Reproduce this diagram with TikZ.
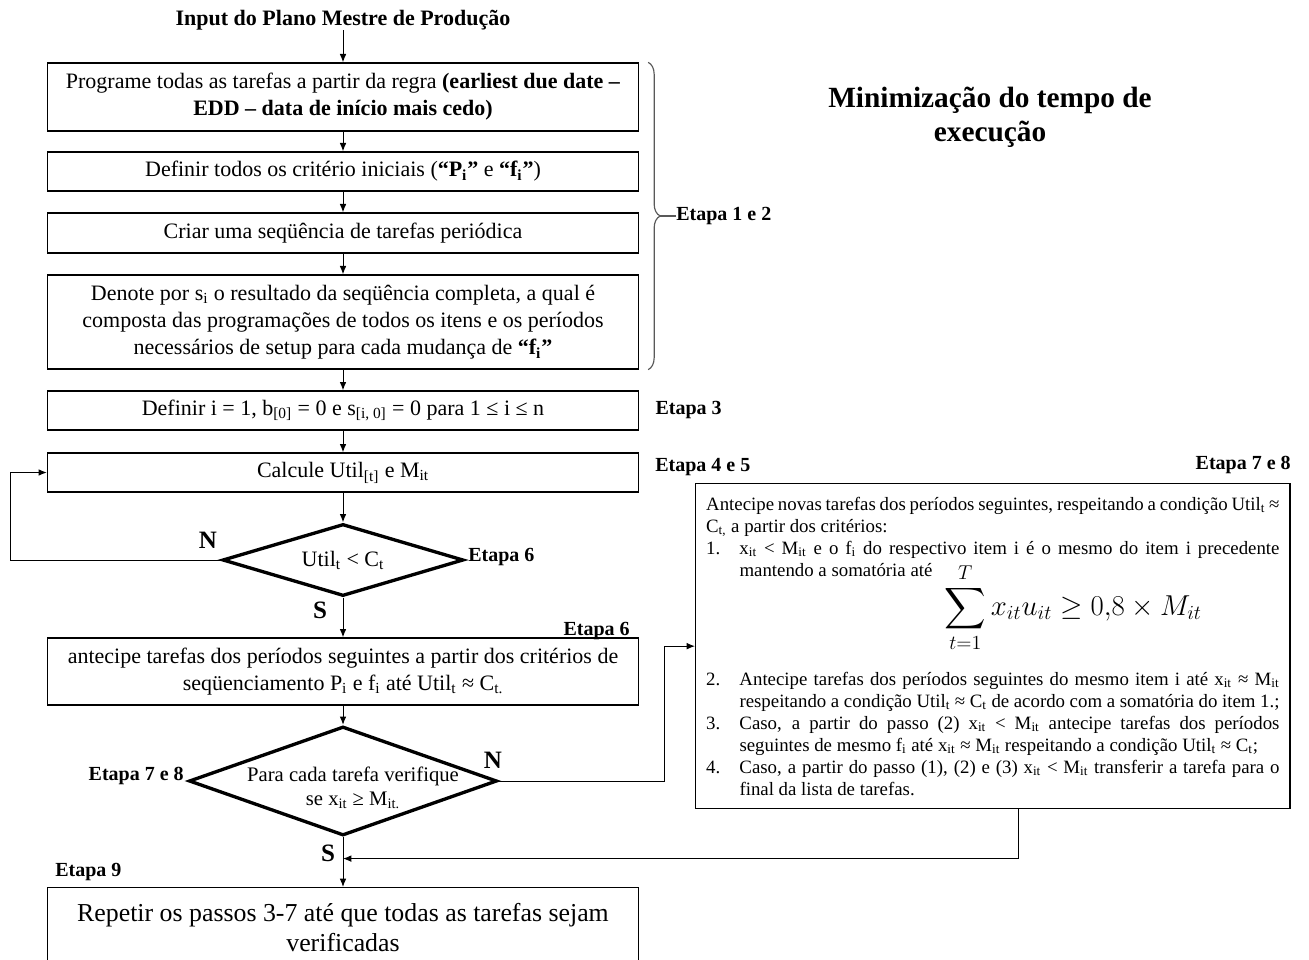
\documentclass[tikz,border=0pt]{standalone}
\usepackage{fontspec}
\setmainfont{Liberation Serif}
\usepackage{amsmath}
\usetikzlibrary{arrows.meta, positioning, calc, shapes.geometric, decorations.pathreplacing}

\newcommand\sbs[1]{\textsubscript{#1}}
\newcommand\passo[2]{\par\hangindent=20pt\hangafter=1\noindent\makebox[20pt][l]{#1}#2\par}

\begin{document}
\begin{tikzpicture}[x=0.6pt, y=-0.6pt,
    caixa/.style={draw, line width=0.8pt, minimum width=354.6pt, align=center,
        font=\fontsize{13.2}{16.2}\selectfont, inner sep=2pt},
    decisao/.style={diamond, draw, line width=2pt, inner sep=0pt},
    etapa/.style={font=\bfseries\fontsize{12}{14}\selectfont, inner sep=0pt},
    letra/.style={font=\bfseries\fontsize{15}{17}\selectfont, inner sep=0pt},
    seta/.style={-{Latex[length=5pt, width=4pt]}, line width=0.6pt}]
    \useasboundingbox (0,0) rectangle (1309,960);

    % coluna principal
    \node[etapa, font=\bfseries\fontsize{13.2}{15}\selectfont] (input) at (343,20) {Input do Plano Mestre de Produção};
    \node[caixa, minimum height=40.8pt] (prog) at (343,97)
        {Programe todas as tarefas a partir da regra \textbf{(earliest due date –}\\
         \textbf{EDD – data de início mais cedo)}};
    \node[caixa, minimum height=23.4pt] (crit) at (343,171.5)
        {Definir todos os critério iniciais (\textbf{“P\sbs{i}”} e \textbf{“f\sbs{i}”})};
    \node[caixa, minimum height=24pt] (seq) at (343,233)
        {Criar uma seqüência de tarefas periódica};
    \node[caixa, minimum height=56.4pt] (denote) at (343,322)
        {Denote por s\sbs{i} o resultado da seqüência completa, a qual é\\
         composta das programações de todos os itens e os períodos\\
         necessários de setup para cada mudança de \textbf{“f\sbs{i}”}};
    \node[caixa, minimum height=23.4pt] (init) at (343,410.5)
        {Definir i = 1, b\sbs{[0]} = 0 e s\sbs{[i, 0]} = 0 para 1 ≤ i ≤ n};
    \node[caixa, minimum height=23.4pt] (util) at (343,472.5)
        {Calcule Util\sbs{[t]} e M\sbs{it}};
    \node[decisao, minimum width=144.6pt, minimum height=43.2pt,
        label={[font=\fontsize{13.2}{15}\selectfont]center:Util\sbs{t} < C\sbs{t}}] (d1) at (343,560) {};
    \node[caixa, minimum height=40.2pt] (antec) at (343,671.5)
        {antecipe tarefas dos períodos seguintes a partir dos critérios de\\
         seqüenciamento P\sbs{i} e f\sbs{i} até Util\sbs{t} ≈ C\sbs{t.}};
    \node[decisao, minimum width=184.8pt, minimum height=65.4pt] (d2) at (343,781) {};
    \node[align=center, font=\fontsize{12.4}{14.4}\selectfont] (d2txt) at (353,788)
        {Para cada tarefa verifique\\se x\sbs{it} ≥ M\sbs{it.}};
    \node[caixa, minimum height=48pt, anchor=north, font=\fontsize{15.5}{18}\selectfont] (repet) at (343,887)
        {Repetir os passos 3-7 até que todas as tarefas sejam\\verificadas};

    % caixa dos critérios
    \node[draw, line width=0.8pt, anchor=north west, text width=344pt, inner xsep=6.3pt,
        minimum height=195pt, align=justify, font=\fontsize{11.3}{13.2}\selectfont] (regras) at (695,483)
        {\hyphenpenalty=10000\exhyphenpenalty=10000
         \noindent Antecipe novas tarefas dos períodos seguintes, respeitando a condição Util\sbs{t}~≈
         C\sbs{t,} a partir dos critérios:
         \passo{1.}{x\sbs{it} < M\sbs{it} e o f\sbs{i} do respectivo item i é o mesmo do item i precedente
           mantendo a somatória até}
         \vspace{-9pt}\noindent\hspace*{143pt}{\LARGE$\displaystyle\sum_{t=1}^{T} x_{it}u_{it} \geq 0{,}8\times M_{it}$}\par
         \vspace{11pt}
         \passo{2.}{Antecipe tarefas dos períodos seguintes do mesmo item i até x\sbs{it} ≈ M\sbs{it}
           respeitando a condição Util\sbs{t} ≈ C\sbs{t} de acordo com a somatória do item 1.;}
         \passo{3.}{Caso, a partir do passo (2) x\sbs{it} < M\sbs{it} antecipe tarefas dos períodos
           seguintes de mesmo f\sbs{i} até x\sbs{it} ≈ M\sbs{it} respeitando a condição Util\sbs{t} ≈ C\sbs{t};}
         \passo{4.}{Caso, a partir do passo (1), (2) e (3) x\sbs{it} < M\sbs{it} transferir a tarefa para o
           final da lista de tarefas.}};

    \node[font=\bfseries\fontsize{17.6}{20.4}\selectfont, align=center] (titulo) at (990,117)
        {Minimização do tempo de\\execução};

    % etapas
    \node[etapa, anchor=west] (et12) at (676,216) {Etapa 1 e 2};
    \node[etapa, right=9.6pt of init] (et3) {Etapa 3};
    \node[etapa, anchor=west] (et45) at (655,467) {Etapa 4 e 5};
    \node[etapa, anchor=west] (et6a) at (468,557) {Etapa 6};
    \node[etapa, anchor=east] (et6b) at (630,631) {Etapa 6};
    \node[etapa, anchor=east] (et78a) at (184,776) {Etapa 7 e 8};
    \node[etapa, anchor=east] (et78b) at (1291,465) {Etapa 7 e 8};
    \node[etapa, anchor=west] (et9) at (55,872) {Etapa 9};
    \node[letra] (n1) at (208,540) {N};
    \node[letra] (s1) at (320,610) {S};
    \node[letra] (n2) at (493,760) {N};
    \node[letra] (s2) at (328,853) {S};

    \draw[decorate, decoration={brace, amplitude=7.2pt}, gray!70!black, line width=0.7pt]
        ([xshift=5.4pt]prog.north east) -- ([xshift=5.4pt]denote.south east);
    \draw[gray!70!black, line width=0.7pt] (660,216) -- (et12.west);

    % setas
    \draw[seta] (input) -- (prog);
    \draw[seta] (prog) -- (crit);
    \draw[seta] (crit) -- (seq);
    \draw[seta] (seq) -- (denote);
    \draw[seta] (denote) -- (init);
    \draw[seta] (init) -- (util);
    \draw[seta] (util) -- (d1);
    \draw[seta] (d1) -- (antec);
    \draw[seta] (antec) -- (d2);
    \draw[seta] (d2) -- (repet);
    \draw[seta] (d1.west) -- ++(-210,0) |- (util.west);
    \draw[seta] (d2.east) -- ++(166,0) |- (regras.west);
    \coordinate (junta) at ($(d2.south)!0.43!(repet.north)$);
    \coordinate (saida) at ($(regras.south west)!0.543!(regras.south east)$);
    \draw[seta] (saida) |- (junta);
\end{tikzpicture}
\end{document}
